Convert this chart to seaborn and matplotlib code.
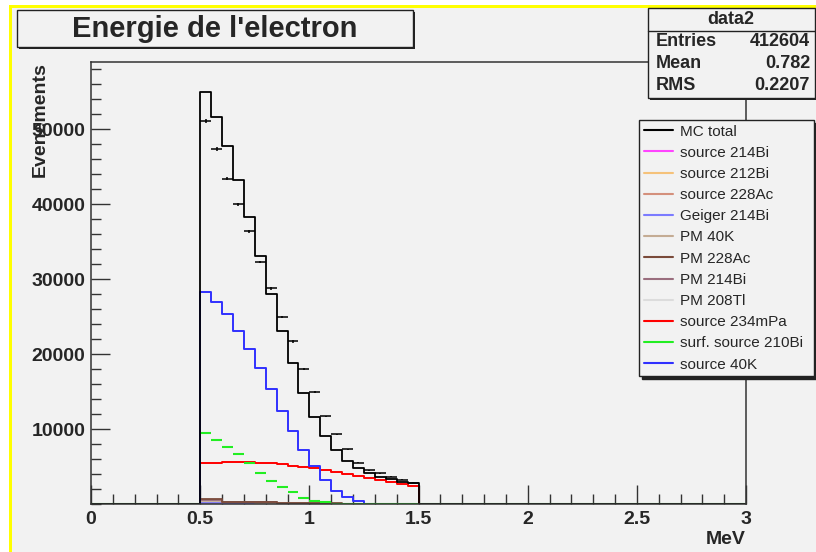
import numpy as np
import pandas as pd
import matplotlib
matplotlib.use("Agg")
import matplotlib.pyplot as plt
import seaborn as sns
from matplotlib.patches import Rectangle
from matplotlib.lines import Line2D

# histogram binning (MeV)
bin_width = 0.05
edges = np.arange(0, 3.0 + bin_width / 2, bin_width)
centers = edges[:-1] + bin_width / 2

# bin contents for 0.50 - 1.50 MeV (20 bins), zero elsewhere
mc_total = [55000, 51700, 47800, 43200, 38300, 33100, 28000, 23100, 18800, 14800,
            11600, 9100, 7200, 5770, 4760, 4090, 3640, 3290, 3000, 2760]
data2 = [51100, 47400, 43400, 40000, 36400, 32300, 28800, 25000, 21700, 18000,
         14900, 11700, 9300, 7300, 5500, 4530, 4100, 3650, 3250, 2850]
source_40k = [28300, 26900, 25400, 23100, 20700, 18200, 15300, 12400, 9700, 7200,
              5100, 3200, 1770, 970, 400, 0, 0, 0, 0, 0]
surf_210bi = [9500, 8530, 7640, 6630, 5510, 4170, 3070, 2270, 1560, 840,
              440, 230, 60, 0, 0, 0, 0, 0, 0, 0]
source_234mpa = [5500, 5500, 5640, 5640, 5560, 5510, 5500, 5330, 5110, 4970,
                 4840, 4530, 4300, 4050, 3750, 3500, 3200, 2950, 2700, 2450]
pm_228ac = [650, 650, 320, 320, 320, 300, 300, 150, 150, 150,
            150, 100, 100, 50, 50, 0, 0, 0, 0, 0]
pm_214bi = [560, 560, 300, 300, 300, 300, 300, 0, 0, 0,
            0, 0, 0, 0, 0, 0, 0, 0, 0, 0]
pm_40k = [400, 400, 250, 250, 250, 200, 200, 150, 150, 100,
          100, 80, 60, 40, 30, 20, 10, 0, 0, 0]
source_212bi = [150, 150, 140, 130, 120, 110, 100, 90, 80, 70,
                60, 50, 40, 30, 20, 10, 0, 0, 0, 0]
geiger_214bi = [120, 110, 100, 90, 80, 70, 60, 50, 40, 30,
                20, 10, 0, 0, 0, 0, 0, 0, 0, 0]
source_214bi = [80, 75, 70, 65, 60, 55, 50, 45, 40, 35,
                30, 25, 20, 15, 10, 5, 0, 0, 0, 0]
source_228ac = [60, 55, 50, 45, 40, 35, 30, 25, 20, 15,
                10, 5, 0, 0, 0, 0, 0, 0, 0, 0]
pm_208tl = [50, 45, 40, 35, 30, 25, 20, 15, 10, 5,
            0, 0, 0, 0, 0, 0, 0, 0, 0, 0]

legend_labels = ["MC total", "source 214Bi", "source 212Bi", "source 228Ac",
                 "Geiger 214Bi", "PM 40K", "PM 228Ac", "PM 214Bi", "PM 208Tl",
                 "source 234mPa", "surf. source 210Bi", "source 40K"]
legend_colors = ["#000000", "#ff44ff", "#f5c27a", "#d4907c", "#7b7bff", "#c4ac94",
                 "#7a4a3a", "#9a6e7e", "#dcdcdc", "#ff0000", "#22ee22", "#3030ff"]

stats_rows = [("Entries", "412604"), ("Mean", "0.782"), ("RMS", "0.2207")]


def full(vals):
    # place the 20 filled bins into the full 0-3 MeV axis
    out = np.zeros(len(centers))
    out[10:30] = vals
    return out


def step_hist(vals, color, lw):
    df = pd.DataFrame({"E": centers, "n": full(vals)})
    sns.histplot(data=df, x="E", weights="n", bins=list(edges), element="step",
                 fill=False, color=color, linewidth=lw, ax=ax)


bg = "#f2f2f2"
sns.set_style("ticks")
plt.rcParams['font.family'] = ['Liberation Sans', 'DejaVu Sans']

W, H = 816, 552
fig = plt.figure(figsize=(W / 100, H / 100), dpi=100, facecolor="white")


def fx(px):
    return px / W


def fy(py):
    return 1 - py / H


# pad highlight (yellow) and canvas
fig.patches.append(Rectangle((fx(9), 0), 1, fy(5), transform=fig.transFigure,
                             facecolor="#ffff00", edgecolor="none", zorder=-10))
fig.patches.append(Rectangle((fx(12), 0), 1, fy(8), transform=fig.transFigure,
                             facecolor=bg, edgecolor="none", zorder=-9))

ax = fig.add_axes([fx(91), fy(504), fx(746) - fx(91), fy(62) - fy(504)])
ax.set_facecolor(bg)

# small contributions first, then the main ones
small = [(pm_208tl, 8), (source_228ac, 3), (source_214bi, 1), (source_212bi, 2),
         (geiger_214bi, 4), (pm_40k, 5), (pm_214bi, 7), (pm_228ac, 6)]
for vals, ci in small:
    step_hist(vals, legend_colors[ci], 1.3)

step_hist(source_234mpa, legend_colors[9], 1.4)
step_hist(source_40k, legend_colors[11], 1.4)
# surface source drawn as separated plateaus
green = full(surf_210bi)
ax.hlines(green, edges[:-1], edges[1:], color=legend_colors[10], linewidth=1.5)
step_hist(mc_total, "black", 1.3)

# data points
dvals = full(data2)
mask = dvals > 0
ax.errorbar(centers[mask], dvals[mask], xerr=bin_width / 2, yerr=np.sqrt(dvals[mask]),
            fmt="none", ecolor="black", elinewidth=1.1)

ax.set_xlim(0, 3)
ax.set_ylim(0, 59000)
ax.set_xticks(np.arange(0, 3.01, 0.5))
ax.set_xticklabels(["0", "0.5", "1", "1.5", "2", "2.5", "3"])
ax.set_xticks(np.arange(0, 3.01, 0.1), minor=True)
ax.set_yticks(np.arange(10000, 50001, 10000))
ax.set_yticks(np.arange(0, 59000, 2000), minor=True)
ax.tick_params(axis="both", which="major", direction="in", length=13.5, width=1,
               labelsize=14, color="#333333")
ax.tick_params(axis="both", which="minor", direction="in", length=7, width=1,
               color="#333333")
ax.tick_params(axis="x", which="major", pad=5)
ax.tick_params(axis="y", which="major", pad=4)
for lab in ax.get_xticklabels() + ax.get_yticklabels():
    lab.set_fontweight("bold")
for sp in ax.spines.values():
    sp.set_visible(True)
    sp.set_color("#333333")
    sp.set_linewidth(1.1)

ax.set_xlabel("MeV", fontsize=14, fontweight="bold", loc="right", labelpad=2)
ax.set_ylabel("Evenements", fontsize=14, fontweight="bold", loc="top")
ax.yaxis.set_label_coords(-0.064, 1.0)

# title box
fig.patches.append(Rectangle((fx(19), fy(49)), fx(413) - fx(17), fy(10) - fy(47),
                             transform=fig.transFigure, facecolor="#222222",
                             edgecolor="none", zorder=5))
fig.patches.append(Rectangle((fx(17), fy(47)), fx(413) - fx(17), fy(10) - fy(47),
                             transform=fig.transFigure, facecolor=bg,
                             edgecolor="#222222", linewidth=1, zorder=6))
fig.text(fx(215), fy(29), "Energie de l'electron", fontsize=21, fontweight="bold",
         ha="center", va="center", zorder=7)

# statistics box
fig.patches.append(Rectangle((fx(650), fy(100)), fx(815) - fx(648), fy(8) - fy(98),
                             transform=fig.transFigure, facecolor="#222222",
                             edgecolor="none", zorder=5))
fig.patches.append(Rectangle((fx(648), fy(98)), fx(815) - fx(648), fy(8) - fy(98),
                             transform=fig.transFigure, facecolor=bg,
                             edgecolor="#222222", linewidth=1, zorder=6))
fig.lines.append(Line2D([fx(648), fx(815)], [fy(31), fy(31)], transform=fig.transFigure,
                        color="#222222", linewidth=1, zorder=7))
fig.text(fx(731), fy(19), "data2", fontsize=13, fontweight="bold", ha="center",
         va="center", zorder=7)
for i, (name, val) in enumerate(stats_rows):
    yy = fy(42 + 22 * i)
    fig.text(fx(656), yy, name, fontsize=13, fontweight="bold", ha="left",
             va="center", zorder=7)
    fig.text(fx(810), yy, val, fontsize=13, fontweight="bold", ha="right",
             va="center", zorder=7)

# legend
handles = [Line2D([], [], color=c, linewidth=1.5) for c in legend_colors]
leg = fig.legend(handles, legend_labels, loc="upper left",
                 bbox_to_anchor=(fx(639), fy(375), fx(814) - fx(639), fy(120) - fy(375)),
                 mode="expand", fontsize=11, frameon=True, fancybox=False,
                 shadow={"color": "#222222", "alpha": 1}, borderaxespad=0,
                 borderpad=0.3, labelspacing=0.47, handlelength=1.95,
                 handletextpad=0.45)
leg.get_frame().set_edgecolor("#222222")
leg.get_frame().set_facecolor(bg)
leg.get_frame().set_linewidth(1)
leg.get_frame().set_alpha(1)

fig.savefig("out.png", dpi=100, facecolor=fig.get_facecolor())
